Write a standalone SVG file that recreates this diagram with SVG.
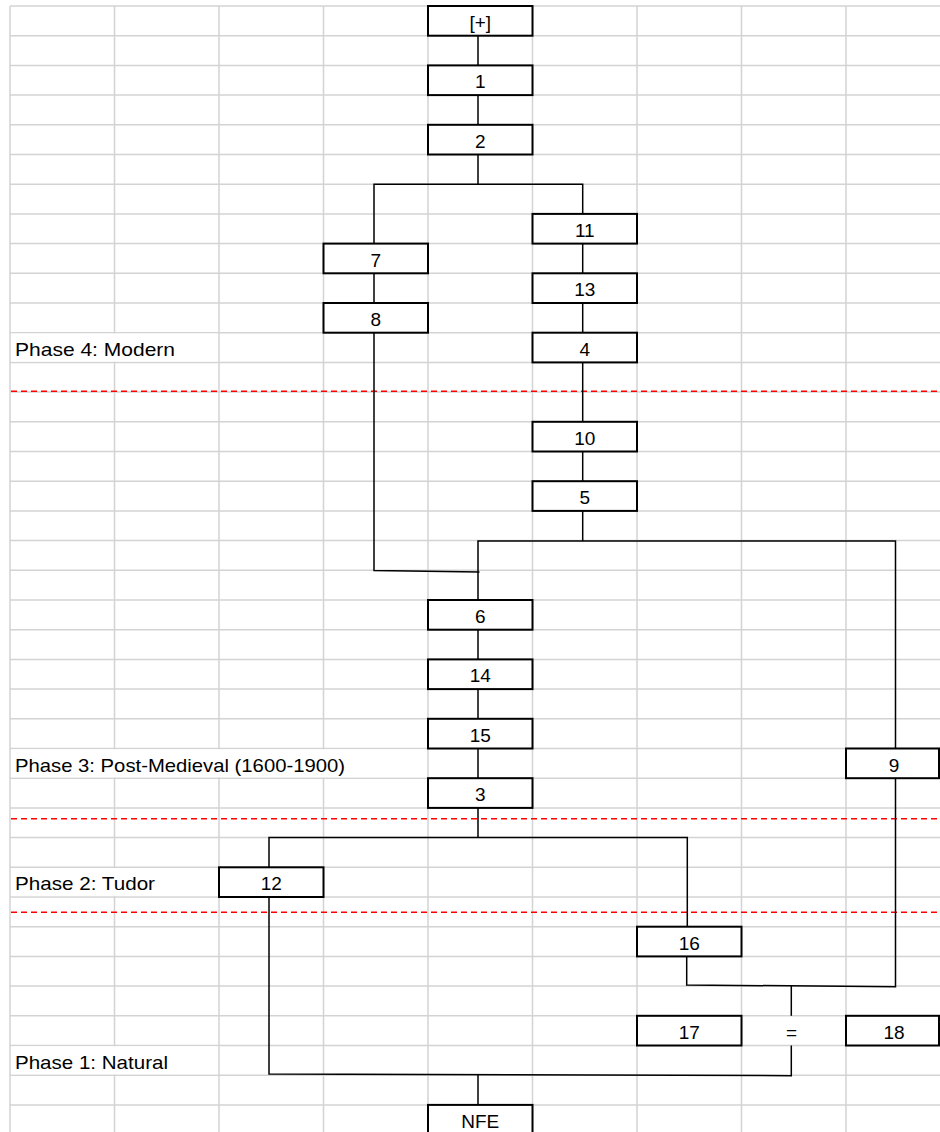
<svg xmlns="http://www.w3.org/2000/svg" width="940" height="1132" viewBox="0 0 940 1132">
<style>
.grid line{stroke:#d3d3d3;stroke-width:1.5}
.node rect{fill:#fff;stroke:#000;stroke-width:2}
.node text,.lbl{font-family:"Liberation Sans",Arial,sans-serif;font-size:19px;fill:#000}
.node text{text-anchor:middle}
.conn path{fill:none;stroke:#000;stroke-width:1.5}
.phase{stroke:#ff0000;stroke-width:1.5;stroke-dasharray:6 4;fill:none}
.mask{fill:#fff}
</style>
<rect x="0" y="0" width="940" height="1132" fill="#fff"/>
<g class="grid">
<line x1="10" y1="6" x2="10" y2="1132"/>
<line x1="114.5" y1="6" x2="114.5" y2="1132"/>
<line x1="219" y1="6" x2="219" y2="1132"/>
<line x1="323.5" y1="6" x2="323.5" y2="1132"/>
<line x1="428" y1="6" x2="428" y2="1132"/>
<line x1="532.5" y1="6" x2="532.5" y2="1132"/>
<line x1="637" y1="6" x2="637" y2="1132"/>
<line x1="741.5" y1="6" x2="741.5" y2="1132"/>
<line x1="846" y1="6" x2="846" y2="1132"/>
<line x1="10" y1="6" x2="940" y2="6"/>
<line x1="10" y1="35.7" x2="940" y2="35.7"/>
<line x1="10" y1="65.4" x2="940" y2="65.4"/>
<line x1="10" y1="95.1" x2="940" y2="95.1"/>
<line x1="10" y1="124.8" x2="940" y2="124.8"/>
<line x1="10" y1="154.5" x2="940" y2="154.5"/>
<line x1="10" y1="184.2" x2="940" y2="184.2"/>
<line x1="10" y1="213.9" x2="940" y2="213.9"/>
<line x1="10" y1="243.6" x2="940" y2="243.6"/>
<line x1="10" y1="273.3" x2="940" y2="273.3"/>
<line x1="10" y1="303" x2="940" y2="303"/>
<line x1="10" y1="332.7" x2="940" y2="332.7"/>
<line x1="10" y1="362.4" x2="940" y2="362.4"/>
<line x1="10" y1="392.1" x2="940" y2="392.1"/>
<line x1="10" y1="421.8" x2="940" y2="421.8"/>
<line x1="10" y1="451.5" x2="940" y2="451.5"/>
<line x1="10" y1="481.2" x2="940" y2="481.2"/>
<line x1="10" y1="510.9" x2="940" y2="510.9"/>
<line x1="10" y1="540.6" x2="940" y2="540.6"/>
<line x1="10" y1="570.3" x2="940" y2="570.3"/>
<line x1="10" y1="600" x2="940" y2="600"/>
<line x1="10" y1="629.7" x2="940" y2="629.7"/>
<line x1="10" y1="659.4" x2="940" y2="659.4"/>
<line x1="10" y1="689.1" x2="940" y2="689.1"/>
<line x1="10" y1="718.8" x2="940" y2="718.8"/>
<line x1="10" y1="748.5" x2="940" y2="748.5"/>
<line x1="10" y1="778.2" x2="940" y2="778.2"/>
<line x1="10" y1="807.9" x2="940" y2="807.9"/>
<line x1="10" y1="837.6" x2="940" y2="837.6"/>
<line x1="10" y1="867.3" x2="940" y2="867.3"/>
<line x1="10" y1="897" x2="940" y2="897"/>
<line x1="10" y1="926.7" x2="940" y2="926.7"/>
<line x1="10" y1="956.4" x2="940" y2="956.4"/>
<line x1="10" y1="986.1" x2="940" y2="986.1"/>
<line x1="10" y1="1015.8" x2="940" y2="1015.8"/>
<line x1="10" y1="1045.5" x2="940" y2="1045.5"/>
<line x1="10" y1="1075.2" x2="940" y2="1075.2"/>
<line x1="10" y1="1104.9" x2="940" y2="1104.9"/>
</g>
<g id="phase-labels">
<rect class="mask" x="11" y="333.5" width="207" height="28"/>
<text class="lbl" x="15" y="355.7" textLength="160" lengthAdjust="spacingAndGlyphs">Phase 4: Modern</text>
<rect class="mask" x="11" y="749.3" width="416" height="28"/>
<text class="lbl" x="15" y="771.5" textLength="330" lengthAdjust="spacingAndGlyphs">Phase 3: Post-Medieval (1600-1900)</text>
<rect class="mask" x="11" y="868.1" width="207" height="28"/>
<text class="lbl" x="15" y="890.3" textLength="140" lengthAdjust="spacingAndGlyphs">Phase 2: Tudor</text>
<rect class="mask" x="11" y="1046.3" width="207" height="28"/>
<text class="lbl" x="15" y="1068.5" textLength="153" lengthAdjust="spacingAndGlyphs">Phase 1: Natural</text>
</g>
<g id="phase-boundaries">
<line class="phase" x1="11" y1="391.3" x2="940" y2="391.3"/>
<line class="phase" x1="11" y1="818.7" x2="940" y2="818.7"/>
<line class="phase" x1="11" y1="912.3" x2="940" y2="912.3"/>
</g>
<g id="connectors" class="conn">
<path d="M478 35.7V65.4"/>
<path d="M478 95.1V124.8"/>
<path d="M478 154.5V184.2M374 243.6V184.2H582.7V213.9"/>
<path d="M374 273.3V303"/>
<path d="M582.7 243.6V273.3"/>
<path d="M582.7 303V332.7"/>
<path d="M582.7 362.4V421.8"/>
<path d="M582.7 451.5V481.2"/>
<path d="M582.7 510.9V541M478 600V541H895.5V748.5"/>
<path d="M374 332.7V570.5L479.5 572"/>
<path d="M478 629.7V659.4"/>
<path d="M478 689.1V718.8"/>
<path d="M478 748.5V778.2"/>
<path d="M478 807.9V837.6M269 867.3V837.6H687.3V926.7"/>
<path d="M895.5 778.2V986.7L686.7 985V956.4"/>
<path d="M791.3 985.8V1015.8"/>
<path d="M269 897V1074L791.3 1075.7V1045.5"/>
<path d="M478 1075V1104.9"/>
</g>
<g id="n-plus" class="node"><rect x="428" y="6" width="104.5" height="29.7"/><text x="480.25" y="29">[+]</text></g>
<g id="n1" class="node"><rect x="428" y="65.4" width="104.5" height="29.7"/><text x="480.25" y="88.4">1</text></g>
<g id="n2" class="node"><rect x="428" y="124.8" width="104.5" height="29.7"/><text x="480.25" y="147.8">2</text></g>
<g id="n11" class="node"><rect x="532.5" y="213.9" width="104.5" height="29.7"/><text x="584.75" y="236.9">11</text></g>
<g id="n7" class="node"><rect x="323.5" y="243.6" width="104.5" height="29.7"/><text x="375.75" y="266.6">7</text></g>
<g id="n13" class="node"><rect x="532.5" y="273.3" width="104.5" height="29.7"/><text x="584.75" y="296.3">13</text></g>
<g id="n8" class="node"><rect x="323.5" y="303" width="104.5" height="29.7"/><text x="375.75" y="326">8</text></g>
<g id="n4" class="node"><rect x="532.5" y="332.7" width="104.5" height="29.7"/><text x="584.75" y="355.7">4</text></g>
<g id="n10" class="node"><rect x="532.5" y="421.8" width="104.5" height="29.7"/><text x="584.75" y="444.8">10</text></g>
<g id="n5" class="node"><rect x="532.5" y="481.2" width="104.5" height="29.7"/><text x="584.75" y="504.2">5</text></g>
<g id="n6" class="node"><rect x="428" y="600" width="104.5" height="29.7"/><text x="480.25" y="623">6</text></g>
<g id="n14" class="node"><rect x="428" y="659.4" width="104.5" height="29.7"/><text x="480.25" y="682.4">14</text></g>
<g id="n15" class="node"><rect x="428" y="718.8" width="104.5" height="29.7"/><text x="480.25" y="741.8">15</text></g>
<g id="n9" class="node"><rect x="846" y="748.5" width="93" height="29.7"/><text x="894" y="771.5">9</text></g>
<g id="n3" class="node"><rect x="428" y="778.2" width="104.5" height="29.7"/><text x="480.25" y="801.2">3</text></g>
<g id="n12" class="node"><rect x="219" y="867.3" width="104.5" height="29.7"/><text x="271.25" y="890.3">12</text></g>
<g id="n16" class="node"><rect x="637" y="926.7" width="104.5" height="29.7"/><text x="689.25" y="949.7">16</text></g>
<g id="n17" class="node"><rect x="637" y="1015.8" width="104.5" height="29.7"/><text x="689.25" y="1038.8">17</text></g>
<g id="eq" class="node"><text x="791.5" y="1038.8">=</text></g>
<g id="n18" class="node"><rect x="846" y="1015.8" width="93" height="29.7"/><text x="894" y="1038.8">18</text></g>
<g id="nNFE" class="node"><rect x="428" y="1104.9" width="104.5" height="29.7"/><text x="480.25" y="1127.9">NFE</text></g>
</svg>
